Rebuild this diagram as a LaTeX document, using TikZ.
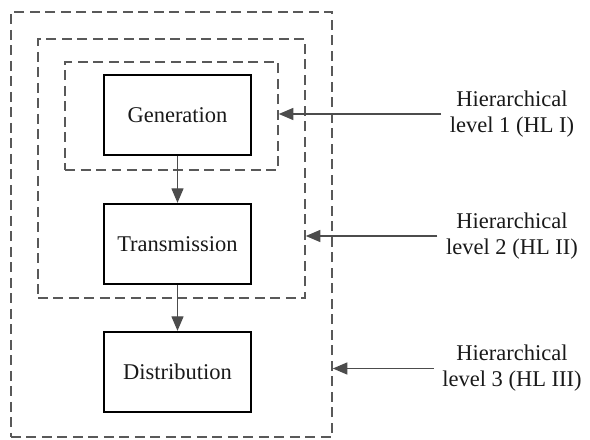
\documentclass[tikz,border=0pt]{standalone}
\usepackage{fontspec}
\setmainfont{Liberation Serif}
\usepackage{tikz}
\usetikzlibrary{arrows.meta,positioning}

\tikzset{
  stage/.style={draw=black, line width=1.3pt, minimum width=2.94cm, minimum height=1.6cm,
    font=\fontsize{12.8}{15}\selectfont, text=black!90},
  levelbox/.style={draw=black!65, line width=0.9pt, dash pattern=on 0.2cm off 0.11cm},
  hlabel/.style={align=center, font=\fontsize{12.8}{14.8}\selectfont, text=black!90},
  flow/.style={draw=black!70, line width=0.7pt, -{Triangle[length=2.9mm,width=2.4mm]}}
}

\begin{document}
\begin{tikzpicture}
  \useasboundingbox (0,0) rectangle (11.8,8.8);
  % nested hierarchical levels
  \node[levelbox, minimum width=6.42cm, minimum height=8.50cm] (hl3) at (3.43,4.31) {};
  \node[levelbox, minimum width=5.34cm, minimum height=5.18cm] (hl2) at (3.43,5.43) {};
  \node[levelbox, minimum width=4.26cm, minimum height=2.16cm] (hl1) at (3.43,6.48) {};
  % power system stages
  \node[stage] (gen) at (3.55,6.50) {Generation};
  \node[stage] (trans) at (3.55,3.92) {Transmission};
  \node[stage] (dist) at (3.55,1.36) {Distribution};
  \draw[flow] (gen) -- (trans);
  \draw[flow] (trans) -- (dist);
  % labels on the right
  \node[hlabel] (lbl1) at (10.24,6.52) {Hierarchical\\level 1 (HL I)};
  \node[hlabel] (lbl2) at (10.24,4.08) {Hierarchical\\level 2 (HL II)};
  \node[hlabel] (lbl3) at (10.24,1.43) {Hierarchical\\level 3 (HL III)};
  \foreach \i in {1,2,3} {
    \draw[flow] ([xshift=-0.05cm]lbl\i.west) -- (lbl\i.west -| hl\i.east);
  }
\end{tikzpicture}
\end{document}
